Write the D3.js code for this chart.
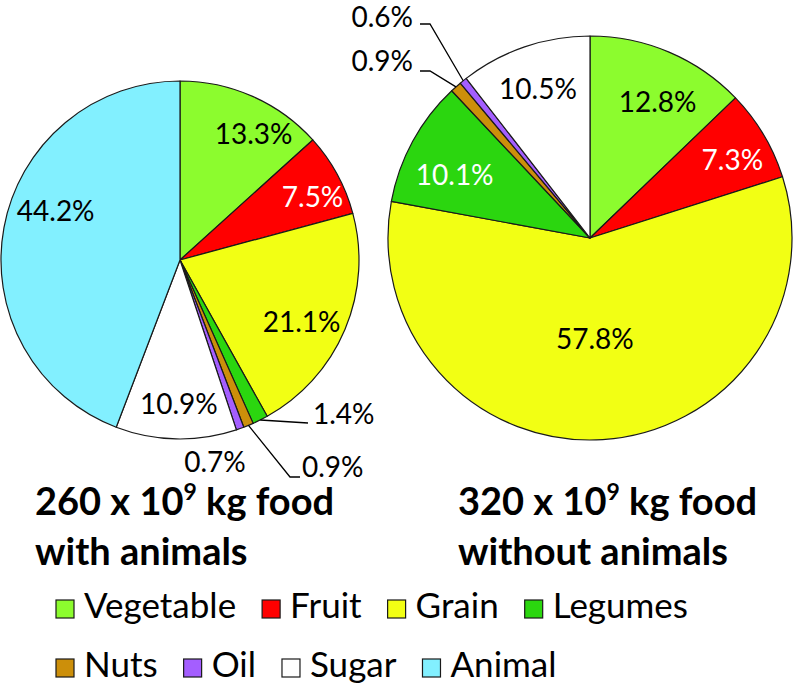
<!DOCTYPE html>
<html><head><meta charset="utf-8">
<script src="https://cdn.jsdelivr.net/npm/d3@7"></script>
<style>body{margin:0;background:#fff} svg{display:block}</style>
</head><body>
<script>
// ---- data ----
const categories = ["Vegetable","Fruit","Grain","Legumes","Nuts","Oil","Sugar","Animal"];
const colors = ["#8cfc2e","#ff0000","#f2ff14","#2bd60f","#cc8f0a","#a45eff","#ffffff","#82f0ff"];
const withAnimals = [13.3,7.5,21.1,1.4,0.9,0.7,10.9,44.2];
const withoutAnimals = [12.8,7.3,57.8,10.1,0.9,0.6,10.5,0];
const titleWith = ["260 x 10","9"," kg food","with animals"];
const titleWithout = ["320 x 10","9"," kg food","without animals"];

// ---- layout ----
const W = 796, H = 685;
const FONT = "Lato, 'Open Sans', sans-serif";
const labelFS = 28;
const whiteInside = ["Fruit","Legumes"];
const pies = [
  {values: withAnimals, title: titleWith, cx:180, cy:260, r:179, tx:35,
   labels:{
     Vegetable:{dx:17,dy:2}, Fruit:{dx:10,dy:4}, Grain:{dx:-7,dy:8},
     Sugar:{dx:2,dy:4}, Animal:{dx:13,dy:-24},
     Legumes:{x:313,y:414,anchor:"start",leader:[[308,423]]},
     Nuts:{x:302,y:467,anchor:"start",leader:[[290,477],[300,477]]},
     Oil:{x:215,y:462,anchor:"middle"}
   }},
  {values: withoutAnimals, title: titleWithout, cx:590, cy:238, r:202, tx:458,
   labels:{
     Vegetable:{dx:6,dy:9}, Fruit:{dx:7,dy:3}, Grain:{dx:-5,dy:-56},
     Legumes:{dx:3,dy:12}, Sugar:{dx:-1,dy:0},
     Oil:{x:413,y:17,anchor:"end",leader:[[430,24],[420,24]]},
     Nuts:{x:413,y:61,anchor:"end",leader:[[430,71],[420,71]]}
   }}
];

const svg = d3.select("body").append("svg").attr("width",W).attr("height",H)
  .style("font-family",FONT);

const color = d3.scaleOrdinal().domain(categories).range(colors);
const pie = d3.pie().sort(null).value(d=>d.v);
const fmt = v => d3.format(".1f")(v) + "%";

pies.forEach(p => {
  const data = categories.map((c,i)=>({c, v:p.values[i]}));
  const arcs = pie(data).filter(a=>a.data.v>0);
  const arc = d3.arc().innerRadius(0).outerRadius(p.r);
  const labelArc = d3.arc().innerRadius(p.r*0.78).outerRadius(p.r*0.78);
  const edgeArc = d3.arc().innerRadius(p.r).outerRadius(p.r);
  const g = svg.append("g").attr("transform",`translate(${p.cx},${p.cy})`);
  g.selectAll("path.slice").data(arcs).join("path")
    .attr("class","slice")
    .attr("d",arc)
    .attr("fill",d=>color(d.data.c))
    .attr("stroke","#1a1a1a").attr("stroke-width",1.2).attr("stroke-linejoin","round");

  arcs.forEach(a => {
    const L = p.labels[a.data.c];
    if (!L) return;
    let x, y, anchor = "middle", fill = "#000";
    if (L.x !== undefined) {
      x = L.x; y = L.y; anchor = L.anchor;
      if (L.leader) {
        const e = edgeArc.centroid(a);
        const pts = [[p.cx+e[0], p.cy+e[1]], ...L.leader];
        svg.append("path").attr("d", d3.line()(pts))
          .attr("fill","none").attr("stroke","#000").attr("stroke-width",1.3);
      }
    } else {
      const c = labelArc.centroid(a);
      x = p.cx + c[0] + L.dx; y = p.cy + c[1] + L.dy;
      if (whiteInside.includes(a.data.c)) fill = "#fff";
    }
    svg.append("text").attr("x",x).attr("y",y + labelFS*0.36)
      .attr("text-anchor",anchor).attr("font-size",labelFS).attr("fill",fill)
      .text(fmt(a.data.v));
  });

  // title
  const t = svg.append("text").attr("x",p.tx).attr("y",515)
    .attr("font-size",38).attr("font-weight","bold").attr("fill","#000");
  t.append("tspan").text(p.title[0]);
  t.append("tspan").attr("font-size",23).attr("dy",-15).text(p.title[1]);
  t.append("tspan").attr("dy",15).text(p.title[2]);
  svg.append("text").attr("x",p.tx).attr("y",565)
    .attr("font-size",38).attr("font-weight","bold").attr("fill","#000")
    .text(p.title[3]);
});

// legend
const rows = [categories.slice(0,4), categories.slice(4)];
const rowY = [618, 677];
const sq = 18, legFS = 35, sqGap = 10, itemGap = 26;
rows.forEach((row, ri) => {
  let x = 56;
  row.forEach(c => {
    svg.append("rect").attr("x",x).attr("y",rowY[ri]-sq).attr("width",sq).attr("height",sq)
      .attr("fill",color(c)).attr("stroke","#1a1a1a").attr("stroke-width",1.2);
    const t = svg.append("text").attr("x",x+sq+sqGap).attr("y",rowY[ri])
      .attr("font-size",legFS).attr("fill","#000").text(c);
    x = x + sq + sqGap + t.node().getComputedTextLength() + itemGap;
  });
});
</script>
</body></html>
